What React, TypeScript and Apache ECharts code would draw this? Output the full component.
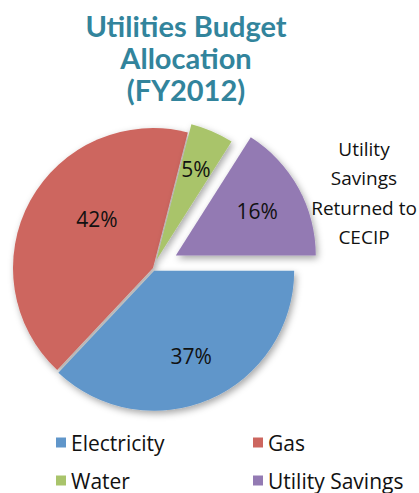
import React, { useEffect, useRef } from "react";
import * as echarts from "echarts";

const categories = ["Electricity", "Gas", "Water", "Utility Savings"];
const values = [37, 42, 5, 16];
const colors = ["#6096CA", "#CD665F", "#A9C46B", "#937AB3"];
const explode = [3, 0, 9, 26];
const labelInner = [40, 0, 52, 40];
const labelNudge = [[-4, -3], [8, -14], [5, -4], [6, 2]];
const titleLines = ["Utilities Budget", "Allocation", "(FY2012)"];
const noteLines = ["Utility", "Savings", "Returned to", "CECIP"];

const CX = 153;
const CY = 268;
const R = 140;

function sliceSeries(i: number) {
  return {
    type: "pie",
    name: categories[i],
    center: [CX, CY],
    radius: [0, R],
    startAngle: 0,
    clockwise: true,
    avoidLabelOverlap: false,
    selectedMode: explode[i] > 0 ? "single" : false,
    selectedOffset: explode[i],
    silent: true,
    label: { show: false },
    labelLine: { show: false },
    emphasis: { disabled: true },
    data: categories.map((name, j) => ({
      name,
      value: values[j],
      selected: j === i && explode[i] > 0,
      itemStyle:
        j === i
          ? {
              color: colors[j],
              shadowBlur: 7,
              shadowColor: "rgba(0,0,0,0.35)",
              shadowOffsetX: 2,
              shadowOffsetY: 3,
            }
          : { color: "rgba(0,0,0,0)", borderWidth: 0 },
    })),
  };
}

function labelSeries(i: number) {
  return {
    type: "pie",
    name: categories[i] + " label",
    center: [CX, CY],
    radius: [labelInner[i], R],
    startAngle: 0,
    clockwise: true,
    avoidLabelOverlap: false,
    selectedMode: explode[i] > 0 ? "single" : false,
    selectedOffset: explode[i],
    silent: true,
    labelLine: { show: false },
    emphasis: { disabled: true },
    data: categories.map((name, j) => ({
      name,
      value: values[j],
      selected: j === i && explode[i] > 0,
      itemStyle: { color: "rgba(0,0,0,0)", borderWidth: 0 },
      label: {
        show: j === i,
        position: "inside",
        formatter: "{c}%",
        color: "#111",
        fontFamily: "Open Sans",
        fontSize: 21,
        offset: labelNudge[j],
      },
    })),
  };
}

export default function App() {
  const ref = useRef<HTMLDivElement>(null);
  useEffect(() => {
    if (!ref.current) return;
    const chart = echarts.init(ref.current, null, { renderer: "svg" });
    const legendText = { fontFamily: "Open Sans", fontSize: 21, color: "#111", lineHeight: 20 };
    const legendCommon = {
      orient: "vertical",
      top: 432,
      padding: 0,
      itemWidth: 10,
      itemHeight: 10,
      itemGap: 17,
      icon: "rect",
      textStyle: legendText,
      selectedMode: false,
    };
    chart.setOption({
      animation: false,
      backgroundColor: "#ffffff",
      legend: [
        {
          ...legendCommon,
          left: 56,
          data: [0, 2].map((i) => ({ name: categories[i], itemStyle: { color: colors[i] } })),
        },
        {
          ...legendCommon,
          left: 253,
          data: [1, 3].map((i) => ({ name: categories[i], itemStyle: { color: colors[i] } })),
        },
      ],
      graphic: [
        {
          type: "text",
          x: 186,
          y: 9,
          style: {
            text: titleLines.join("\n"),
            textAlign: "center",
            textVerticalAlign: "top",
            fontFamily: "Lato",
            fontWeight: "bold",
            fontSize: 29,
            lineHeight: 32,
            fill: "#32849C",
          },
        },
        {
          type: "text",
          x: 364,
          y: 134,
          style: {
            text: noteLines.join("\n"),
            textAlign: "center",
            textVerticalAlign: "top",
            fontFamily: "Open Sans",
            fontSize: 19,
            lineHeight: 29.5,
            fill: "#111",
          },
        },
      ],
      series: [
        ...[1, 0, 2, 3].map((i) => sliceSeries(i)),
        ...[0, 1, 2, 3].map((i) => labelSeries(i)),
      ],
    });
    return () => chart.dispose();
  }, []);
  return (
    <div
      ref={ref}
      style={{ position: "fixed", left: 0, top: 0, width: 419, height: 493, background: "#fff" }}
    />
  );
}
